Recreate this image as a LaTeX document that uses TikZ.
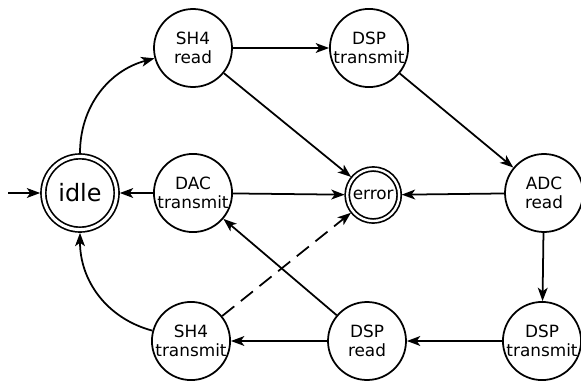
\documentclass[tikz,border=0pt]{standalone}
\usepackage{fontspec}
\setmainfont{DejaVu Sans}
\usepackage{tikz}
\usetikzlibrary{arrows.meta, positioning, calc}

\begin{document}
\begin{tikzpicture}[
    state/.style={circle, draw=black, line width=1.25pt, fill=white, inner sep=0pt,
                  minimum size=1.95cm, align=center, font=\fontsize{12}{14}\selectfont},
    final/.style={circle, draw=black, line width=1.2pt, double, double distance=2.2pt,
                  inner sep=0pt, outer sep=2.3pt, align=center},
    arr/.style={-{Stealth[length=9.5pt, width=7pt, inset=2.5pt]}, line width=1.25pt, draw=black}
]
\useasboundingbox (0,0) rectangle (14.525,9.575);
% middle row: idle, DAC, error, ADC
\node[final, minimum size=1.83cm, font=\fontsize{17}{20}\selectfont] (idle) at (2.0,4.75) {idle};
\node[state] (dactx) at (4.825,4.75) {DAC\\transmit};
\node[final, minimum size=1.3cm, double distance=1.7pt, outer sep=1.8pt,
      font=\fontsize{12}{14}\selectfont] (error) at (9.33,4.7) {error};
\node[state] (adcread) at (13.6,4.75) {ADC\\read};
% top row
\node[state] (shread) at (4.825,8.375) {SH4\\read};
\node[state] (dsptxa) at (9.225,8.375) {DSP\\transmit};
% bottom row
\node[state] (shtx) at (4.775,1.05) {SH4\\transmit};
\node[state] (dspread) at (9.175,1.05) {DSP\\read};
\node[state] (dsptxb) at (13.55,1.05) {DSP\\transmit};
% start arrow
\coordinate (start) at (0.2,4.75);
\draw[arr] (start) -- (idle);
% the cycle
\draw[arr] (idle) to[out=90, in=195] (shread);
\draw[arr] (shread) -- (dsptxa);
\draw[arr] (dsptxa) -- (adcread);
\draw[arr] (adcread) -- (dsptxb);
\draw[arr] (dsptxb) -- (dspread);
\draw[arr] (dspread) -- (shtx);
\draw[arr] (shtx) to[out=165, in=270] (idle);
% short cut
\draw[arr] (dspread) -- (dactx);
\draw[arr] (dactx) -- (idle);
% error edges
\draw[arr] (dactx) -- (error);
\draw[arr] (shread) -- (error);
\draw[arr] (adcread) -- (error);
\draw[arr, dash pattern=on 11pt off 6pt] (shtx) -- (error);
\end{tikzpicture}
\end{document}
